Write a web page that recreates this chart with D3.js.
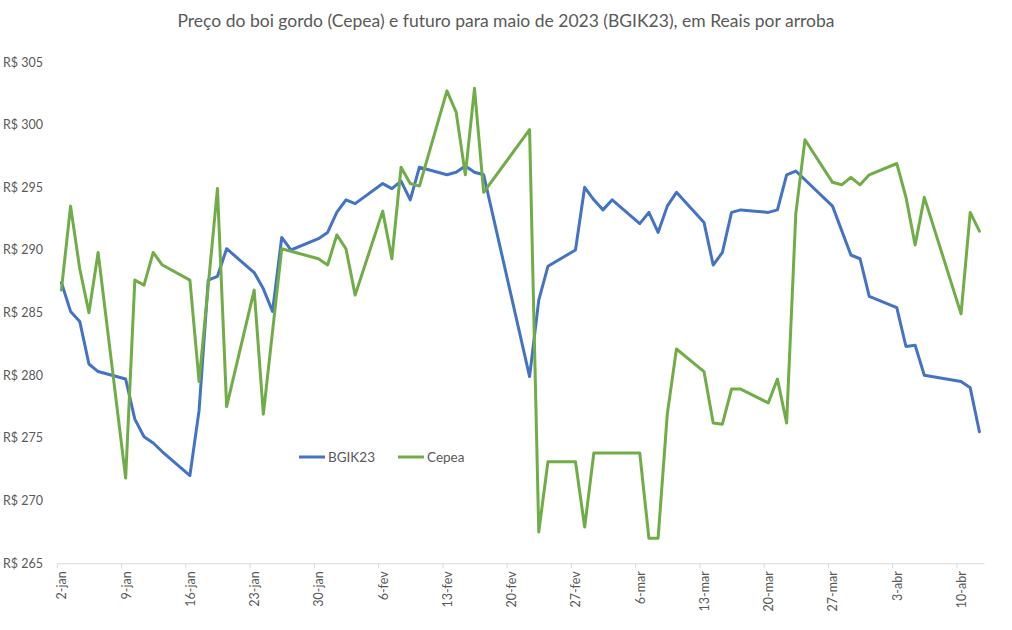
<!DOCTYPE html>
<html>
<head>
<meta charset="utf-8">
<script src="https://cdn.jsdelivr.net/npm/d3@7"></script>
<style>
  body { margin: 0; background: #fff; }
  text { font-family: Lato, "Open Sans", sans-serif; fill: #595959; }
</style>
</head>
<body>
<div id="chart"></div>
<script>
/* DATA */
const dates = [
  "2023-01-02","2023-01-03","2023-01-04","2023-01-05","2023-01-06",
  "2023-01-09","2023-01-10","2023-01-11","2023-01-12","2023-01-13",
  "2023-01-16","2023-01-17","2023-01-18","2023-01-19","2023-01-20",
  "2023-01-23","2023-01-24","2023-01-25","2023-01-26","2023-01-27",
  "2023-01-30","2023-01-31","2023-02-01","2023-02-02","2023-02-03",
  "2023-02-06","2023-02-07","2023-02-08","2023-02-09","2023-02-10",
  "2023-02-13","2023-02-14","2023-02-15","2023-02-16","2023-02-17",
  "2023-02-22","2023-02-23","2023-02-24",
  "2023-02-27","2023-02-28","2023-03-01","2023-03-02","2023-03-03",
  "2023-03-06","2023-03-07","2023-03-08","2023-03-09","2023-03-10",
  "2023-03-13","2023-03-14","2023-03-15","2023-03-16","2023-03-17",
  "2023-03-20","2023-03-21","2023-03-22","2023-03-23","2023-03-24",
  "2023-03-27","2023-03-28","2023-03-29","2023-03-30","2023-03-31",
  "2023-04-03","2023-04-04","2023-04-05","2023-04-06",
  "2023-04-10","2023-04-11","2023-04-12"
];

// futuro BGIK23 (null = sem ponto)
const bgik23 = [
  287.4, 285.1, 284.3, 280.9, 280.3,
  279.7, 276.5, 275.1, 274.6, 273.9,
  272.0, 277.2, 287.6, 287.9, 290.1,
  288.2, 286.9, 285.1, 291.0, 290.0,
  290.9, 291.4, 293.0, 294.0, 293.7,
  295.3, 294.9, 295.5, 294.0, 296.6,
  296.0, 296.2, 296.7, 296.2, 296.0,
  279.9, 286.0, 288.7,
  290.0, 295.0, 294.0, 293.2, 294.0,
  292.1, 293.0, 291.4, 293.5, 294.6,
  292.2, 288.8, 289.8, 293.0, 293.2,
  293.0, 293.2, 296.0, 296.3, null,
  293.5, null, 289.6, 289.3, 286.3,
  285.4, 282.3, 282.4, 280.0,
  279.5, 279.0, 275.5
];

// indicador Cepea
const cepea = [
  286.8, 293.5, 288.5, 285.0, 289.8,
  271.8, 287.6, 287.2, 289.8, 288.8,
  287.6, 279.5, null, 294.9, 277.5,
  286.8, 276.9, null, 290.1, 289.9,
  289.3, 288.8, 291.2, 290.1, 286.4,
  293.1, 289.3, 296.6, 295.3, 295.1,
  302.7, 301.0, 296.0, 302.9, 294.6,
  299.6, 267.5, 273.1,
  273.1, 267.9, 273.8, 273.8, 273.8,
  273.8, 267.0, 267.0, 276.9, 282.1,
  280.3, 276.2, 276.1, 278.9, 278.9,
  277.8, 279.7, 276.2, 292.9, 298.8,
  295.4, 295.2, 295.8, 295.2, 296.0,
  296.9, 294.2, 290.4, 294.2,
  284.9, 293.0, 291.5
];

const seriesNames = ["BGIK23", "Cepea"];
const seriesColors = ["#4472C4", "#70AD47"];
const yTicks = [265, 270, 275, 280, 285, 290, 295, 300, 305];
const meses = ["jan", "fev", "mar", "abr"];
const title = "Preço do boi gordo (Cepea) e futuro para maio de 2023 (BGIK23), em Reais por arroba";

/* SETUP */
const width = 1012, height = 630;
const parse = d3.timeParse("%Y-%m-%d");
const dayMs = 24 * 3600 * 1000;

const svg = d3.select("#chart").append("svg")
  .attr("width", width)
  .attr("height", height);

// escala de datas: cada dia ocupa uma "fatia", pontos no centro
const xScale = d3.scaleTime()
  .domain([parse("2023-01-02"), parse("2023-04-13")])
  .range([56.8, 984]);

const yScale = d3.scaleLinear()
  .domain([265, 305])
  .range([563.3, 62]);

const halfDay = (xScale(parse("2023-01-03")) - xScale(parse("2023-01-02"))) / 2;

// title
svg.append("text")
  .attr("x", 506)
  .attr("y", 27)
  .attr("text-anchor", "middle")
  .style("font-size", "17.5px")
  .text(title);

// y axis (labels only)
const yAxis = d3.axisLeft(yScale)
  .tickValues(yTicks)
  .tickSize(0)
  .tickPadding(0)
  .tickFormat(d => "R$ " + d);

svg.append("g")
  .attr("transform", "translate(43,0)")
  .call(yAxis)
  .call(g => g.select(".domain").remove())
  .selectAll("text")
  .style("font-family", "Lato, sans-serif")
  .style("font-size", "12.5px")
  .attr("fill", "#595959");

// x axis
const weekTicks = d3.timeMonday.range(parse("2023-01-02"), parse("2023-04-13"), 1);

const xAxis = d3.axisBottom(xScale)
  .tickValues(weekTicks)
  .tickSize(5)
  .tickSizeOuter(0)
  .tickFormat(d => d.getDate() + "-" + meses[d.getMonth()]);

const xAxisGroup = svg.append("g")
  .attr("transform", `translate(0,${yScale(265)})`)
  .call(xAxis);

xAxisGroup.select(".domain").attr("stroke", "#d9d9d9");
xAxisGroup.selectAll(".tick line").attr("stroke", "#d9d9d9");
xAxisGroup.selectAll(".tick text")
  .attr("fill", "#595959")
  .style("font-family", "Lato, sans-serif")
  .style("font-size", "12.5px")
  .attr("transform", "rotate(-90)")
  .attr("x", -8)
  .attr("y", halfDay)
  .attr("dy", "0.35em")
  .style("text-anchor", "end");

// lines
const allSeries = [bgik23, cepea].map((vals, k) => ({
  name: seriesNames[k],
  color: seriesColors[k],
  values: dates.map((d, i) => ({ date: parse(d), value: vals[i] }))
    .filter(p => p.value !== null)
}));

const line = d3.line()
  .x(d => xScale(new Date(d.date.getTime() + dayMs / 2)))
  .y(d => yScale(d.value));

svg.selectAll(".serie")
  .data(allSeries)
  .join("path")
  .attr("class", "serie")
  .attr("fill", "none")
  .attr("stroke", d => d.color)
  .attr("stroke-width", 3)
  .attr("stroke-linejoin", "round")
  .attr("stroke-linecap", "round")
  .attr("d", d => line(d.values));

// legend
const legend = svg.append("g")
  .attr("transform", "translate(299,457)");

const items = legend.selectAll("g")
  .data(allSeries)
  .join("g")
  .attr("transform", (d, i) => `translate(${i * 99},0)`);

items.append("line")
  .attr("x1", 0).attr("x2", 26)
  .attr("stroke", d => d.color)
  .attr("stroke-width", 3);

items.append("text")
  .attr("x", 29)
  .attr("dy", "0.35em")
  .style("font-size", "13.5px")
  .text(d => d.name);
</script>
</body>
</html>
